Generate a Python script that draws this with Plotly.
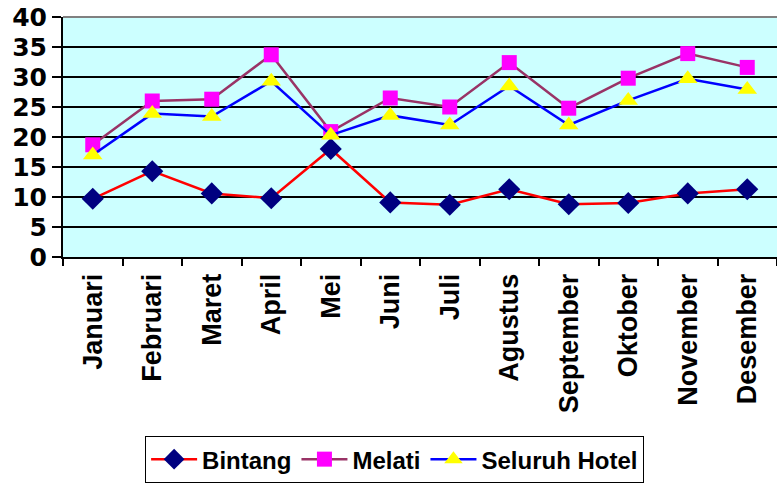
import plotly.graph_objects as go

months = ["Januari", "Februari", "Maret", "April", "Mei", "Juni", "Juli",
          "Agustus", "September", "Oktober", "November", "Desember"]
bintang = [9.7, 14.3, 10.6, 9.8, 18.0, 9.1, 8.7, 11.3, 8.8, 9.0, 10.6, 11.3]
melati = [18.7, 26.0, 26.3, 33.7, 20.9, 26.5, 25.0, 32.4, 24.8, 29.8, 33.9, 31.6]
seluruh = [17.0, 23.9, 23.4, 29.3, 20.3, 23.6, 22.0, 28.5, 22.0, 26.1, 29.7, 27.9]
y_ticks = [0, 5, 10, 15, 20, 25, 30, 35, 40]

fig = go.Figure()
fig.add_trace(go.Scatter(x=months, y=bintang, name="Bintang", mode="lines+markers",
                         line=dict(color="#FF0000", width=2.5),
                         marker=dict(symbol="diamond", size=17, color="#000080")))
fig.add_trace(go.Scatter(x=months, y=melati, name="Melati", mode="lines+markers",
                         line=dict(color="#993366", width=2.5),
                         marker=dict(symbol="square", size=15, color="#FF00FF")))
fig.add_trace(go.Scatter(x=months, y=seluruh, name="Seluruh Hotel", mode="lines+markers",
                         line=dict(color="#0000FF", width=2.5),
                         marker=dict(symbol="triangle-up", size=17, color="#FFFF00")))

fig.update_layout(
    width=777, height=488,
    margin=dict(l=63, r=0, t=17, b=231),
    paper_bgcolor="white",
    plot_bgcolor="#CCFFFF",
    showlegend=True,
    legend=dict(orientation="h", x=0.115, xanchor="left", y=-0.746, yanchor="top",
                bordercolor="black", borderwidth=1, bgcolor="white",
                font=dict(family="Liberation Sans", size=24, color="black"),
                itemwidth=46, tracegroupgap=0),
    xaxis=dict(type="category", range=[-0.5, 11.5], tickson="boundaries",
               ticks="outside", ticklen=7,
               tickwidth=2, tickcolor="black", showline=True, linecolor="black",
               linewidth=2, showgrid=False, tickangle=-90,
               tickfont=dict(family="Liberation Sans", size=27, color="black"),
               ticklabelstandoff=4),
    yaxis=dict(range=[0, 40], tickvals=y_ticks, ticks="outside", ticklen=9,
               tickwidth=2, tickcolor="black", showline=True, linecolor="black",
               linewidth=2, showgrid=True, gridcolor="black", gridwidth=2,
               zeroline=False,
               tickfont=dict(family="DejaVu Sans", size=25, color="black")),
    shapes=[dict(type="line", xref="paper", yref="paper", x0=0, x1=1, y0=1, y1=1,
                 line=dict(color="#808080", width=2), layer="above")],
)
for ax in ("xaxis", "yaxis"):
    fig.layout[ax].tickfont.weight = "bold"
fig.layout.legend.font.weight = "bold"

fig.write_html("out.html", config={"displayModeBar": False},
               post_script="document.body.style.margin='0';document.body.style.overflow='hidden';")
